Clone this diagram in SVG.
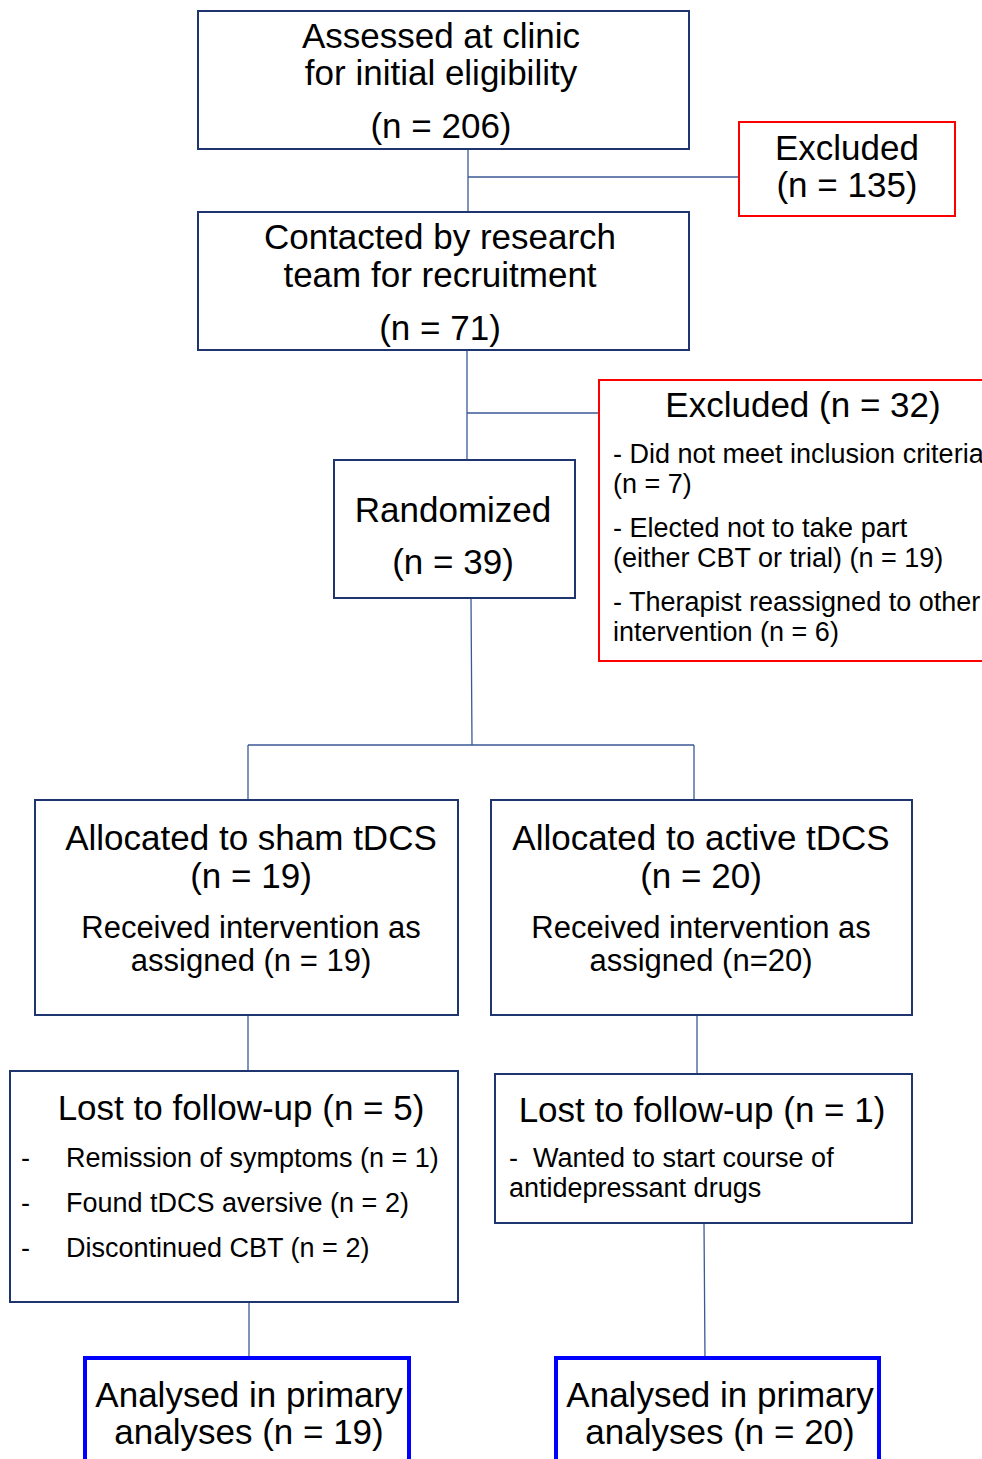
<svg xmlns="http://www.w3.org/2000/svg" width="982" height="1459" viewBox="0 0 982 1459">
<style>
text{font-family:"Liberation Sans",Arial,sans-serif;fill:#000}
.t{font-size:35px;text-anchor:middle}
.m{font-size:31px;text-anchor:middle}
.s{font-size:27px}
.nb{fill:#fff;stroke:#1f3570;stroke-width:2}
.rb{fill:#fff;stroke:#ff0000;stroke-width:2}
.bb{fill:#fff;stroke:#0000ff;stroke-width:4}
.c{fill:none;stroke:#3b5998;stroke-width:1.3}
</style>
<rect width="982" height="1459" fill="#fff"/>
<g id="connectors">
<path class="c" d="M468 149V212M468 177H739"/>
<path class="c" d="M467 350V460M467 413H599"/>
<path class="c" d="M471 598L472 745M248 745H694M248 745V800M694 745V800"/>
<path class="c" d="M248 1015V1071M697 1015V1074"/>
<path class="c" d="M249 1302V1358M704 1223L705 1358"/>
</g>
<g id="assessed">
<rect class="nb" x="198" y="11" width="491" height="138"/>
<text class="t" x="441" y="48">Assessed at clinic</text>
<text class="t" x="441" y="85">for initial eligibility</text>
<text class="t" x="441" y="138">(n = 206)</text>
</g>
<g id="excluded1">
<rect class="rb" x="739" y="122" width="216" height="94"/>
<text class="t" x="847" y="160">Excluded</text>
<text class="t" x="847" y="197">(n = 135)</text>
</g>
<g id="contacted">
<rect class="nb" x="198" y="212" width="491" height="138"/>
<text class="t" x="440" y="249">Contacted by research</text>
<text class="t" x="440" y="287">team for recruitment</text>
<text class="t" x="440" y="340">(n = 71)</text>
</g>
<g id="excluded2">
<rect class="rb" x="599" y="380" width="400" height="281"/>
<text class="t" x="803" y="417">Excluded (n = 32)</text>
<text class="s" x="613" y="463">- Did not meet inclusion criteria</text>
<text class="s" x="613" y="493">(n = 7)</text>
<text class="s" x="613" y="537">- Elected not to take part</text>
<text class="s" x="613" y="567">(either CBT or trial) (n = 19)</text>
<text class="s" x="613" y="611">- Therapist reassigned to other</text>
<text class="s" x="613" y="641">intervention (n = 6)</text>
</g>
<g id="randomized">
<rect class="nb" x="334" y="460" width="241" height="138"/>
<text class="t" x="453" y="522">Randomized</text>
<text class="t" x="453" y="574">(n = 39)</text>
</g>
<g id="sham">
<rect class="nb" x="35" y="800" width="423" height="215"/>
<text class="t" x="251" y="850">Allocated to sham tDCS</text>
<text class="t" x="251" y="888">(n = 19)</text>
<text class="m" x="251" y="938">Received intervention as</text>
<text class="m" x="251" y="971">assigned (n = 19)</text>
</g>
<g id="active">
<rect class="nb" x="491" y="800" width="421" height="215"/>
<text class="t" x="701" y="850">Allocated to active tDCS</text>
<text class="t" x="701" y="888">(n = 20)</text>
<text class="m" x="701" y="938">Received intervention as</text>
<text class="m" x="701" y="971">assigned (n=20)</text>
</g>
<g id="lost5">
<rect class="nb" x="10" y="1071" width="448" height="231"/>
<text class="t" x="241" y="1120">Lost to follow-up (n = 5)</text>
<text class="s" x="21" y="1167">-</text>
<text class="s" x="66" y="1167">Remission of symptoms (n = 1)</text>
<text class="s" x="21" y="1212">-</text>
<text class="s" x="66" y="1212">Found tDCS aversive (n = 2)</text>
<text class="s" x="21" y="1257">-</text>
<text class="s" x="66" y="1257">Discontinued CBT (n = 2)</text>
</g>
<g id="lost1">
<rect class="nb" x="495" y="1074" width="417" height="149"/>
<text class="t" x="702" y="1122">Lost to follow-up (n = 1)</text>
<text class="s" x="509" y="1167">-<tspan x="533">Wanted to start course of</tspan></text>
<text class="s" x="509" y="1197">antidepressant drugs</text>
</g>
<g id="analysed1">
<rect class="bb" x="85" y="1358" width="324" height="130"/>
<text class="t" x="249" y="1407">Analysed in primary</text>
<text class="t" x="249" y="1444">analyses (n = 19)</text>
</g>
<g id="analysed2">
<rect class="bb" x="556" y="1358" width="323" height="130"/>
<text class="t" x="720" y="1407">Analysed in primary</text>
<text class="t" x="720" y="1444">analyses (n = 20)</text>
</g>
</svg>
